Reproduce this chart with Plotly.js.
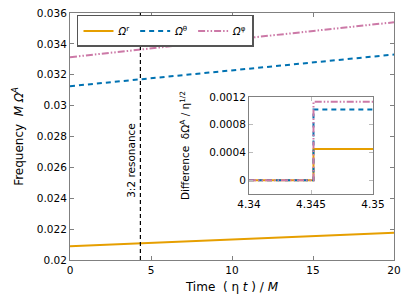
<!DOCTYPE html>
<html><head><meta charset="utf-8">
<script src="https://cdn.plot.ly/plotly-3.0.1.min.js"></script>
<style>html,body{margin:0;padding:0;background:#fff}#c{width:415px;height:299px}</style>
</head><body><div id="c"></div>
<script>
// Main panel data
const timeMain = [0, 5, 10, 15, 20];
const omegaR = [0.02089, 0.02111, 0.02132, 0.02154, 0.02176];
const omegaTheta = [0.03126, 0.03177, 0.03228, 0.03280, 0.03331];
const omegaPhi = [0.03314, 0.03370, 0.03427, 0.03483, 0.03540];
const resonanceT = 4.345;
const resonanceY = [0.02, 0.036];
// Inset data
const timeInset = [4.34, 4.3452, 4.35];
const diffR = [0, 0.00045, 0.00045];
const diffTheta = [0, 0.00102, 0.00102];
const diffPhi = [0, 0.00113, 0.00113];
const seriesNames = ['<i>Ω</i><sup>r</sup>', '<i>Ω</i><sup>θ</sup>', '<i>Ω</i><sup>φ</sup>'];

const cOr = '#E69F00', cBl = '#0072B2', cPk = '#CC79A7';
const dashBl = '5px,4px';
const dashPk = '7px,2px,1.5px,2px,1.5px,2px';
const FONT = 'DejaVu Sans, sans-serif';

const traces = [
  {x: timeMain, y: omegaR, name: seriesNames[0], mode: 'lines', line: {color: cOr, width: 2}},
  {x: timeMain, y: omegaTheta, name: seriesNames[1], mode: 'lines', line: {color: cBl, width: 2, dash: dashBl}},
  {x: timeMain, y: omegaPhi, name: seriesNames[2], mode: 'lines', line: {color: cPk, width: 2, dash: dashPk}},
  {x: [resonanceT, resonanceT], y: resonanceY, mode: 'lines', showlegend: false, line: {color: '#000', width: 1.2, dash: '4px,3px'}},
  {x: timeInset, y: diffR, xaxis: 'x2', yaxis: 'y2', mode: 'lines', showlegend: false, line: {color: cOr, width: 2, shape: 'hv'}},
  {x: timeInset, y: diffTheta, xaxis: 'x2', yaxis: 'y2', mode: 'lines', showlegend: false, line: {color: cBl, width: 2, shape: 'hv', dash: dashBl}},
  {x: timeInset, y: diffPhi, xaxis: 'x2', yaxis: 'y2', mode: 'lines', showlegend: false, line: {color: cPk, width: 2, shape: 'hv', dash: dashPk}}
];

const axBase = {showgrid: false, zeroline: false, showline: true, linecolor: '#808080', linewidth: 1,
  mirror: 'ticks', ticks: 'inside', ticklen: 4, tickcolor: '#808080', tickfont: {family: FONT, size: 10.5, color: '#000'}};

const layout = {
  width: 415, height: 299,
  margin: {l: 70, r: 21, t: 13, b: 39},
  paper_bgcolor: '#fff', plot_bgcolor: '#fff',
  font: {family: FONT, color: '#000'},
  showlegend: true,
  legend: {x: 0.0216, y: 0.992, xanchor: 'left', yanchor: 'top', orientation: 'h',
    bgcolor: '#fff', bordercolor: '#555', borderwidth: 1.5, font: {family: FONT, size: 10},
    itemwidth: 30, tracegroupgap: 0},
  xaxis: Object.assign({}, axBase, {range: [0, 20], tickvals: [0, 5, 10, 15, 20],
    title: {text: 'Time  ( η <i>t</i> ) / <i>M</i>', font: {family: FONT, size: 12}, standoff: 8}}),
  yaxis: Object.assign({}, axBase, {range: [0.02, 0.036], tickvals: [0.02, 0.022, 0.024, 0.026, 0.028, 0.03, 0.032, 0.034, 0.036],
    ticktext: ['0.02', '0.022', '0.024', '0.026', '0.028', '0.03', '0.032', '0.034', '0.036'],
    title: {text: 'Frequency  <i>M Ω<sup>A</sup></i>', font: {family: FONT, size: 12}, standoff: 10}}),
  xaxis2: Object.assign({}, axBase, {domain: [0.5525, 0.9352], anchor: 'y2', range: [4.34, 4.35],
    tickvals: [4.34, 4.345, 4.35], ticktext: ['4.34', '4.345', '4.35'], tickcolor: '#bbb'}),
  yaxis2: Object.assign({}, axBase, {domain: [0.2672, 0.6599], anchor: 'x2', range: [-0.0002, 0.0012],
    tickvals: [0, 0.0004, 0.0008, 0.0012], ticktext: ['0', '0.0004', '0.0008', '0.0012'], tickcolor: '#bbb',
    title: {text: 'Difference  δΩ<sup>A</sup> / η<sup>1/2</sup>', font: {family: FONT, size: 10.5}, standoff: 17}}),
  annotations: [
    {x: resonanceT, y: 0.02645, xref: 'x', yref: 'y', text: '3:2 resonance', textangle: -90,
     showarrow: false, xanchor: 'right', yanchor: 'middle', xshift: -1, font: {family: FONT, size: 10.5, color: '#000'}}
  ]
};

Plotly.newPlot('c', traces, layout, {displayModeBar: false, staticPlot: true});
</script>
</body></html>
